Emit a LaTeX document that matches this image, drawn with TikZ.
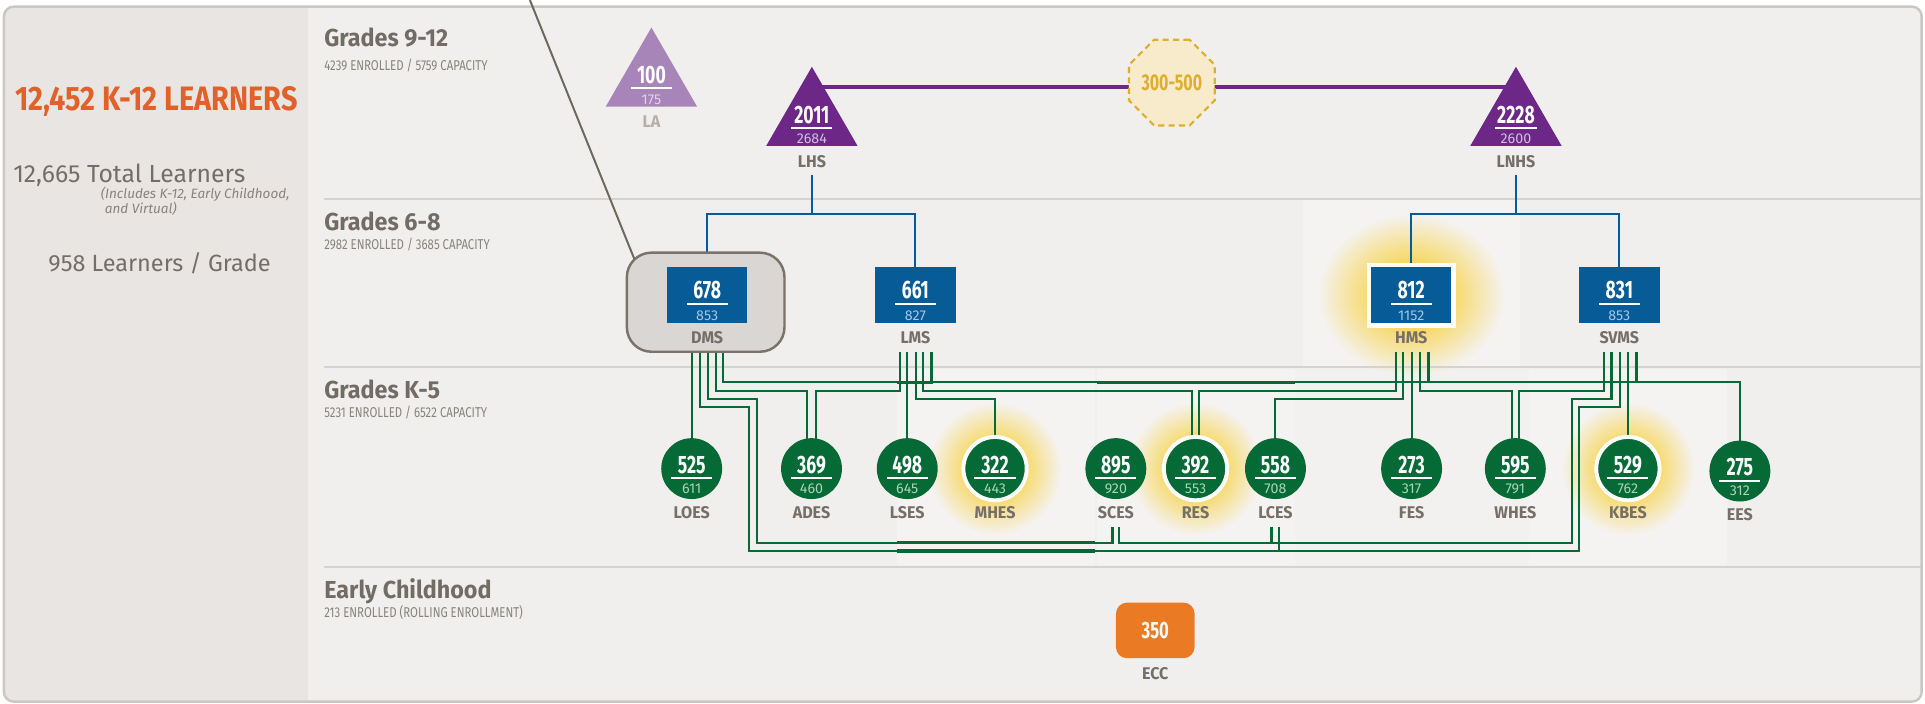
\documentclass[tikz,border=0pt]{standalone}
\usepackage{graphicx}
\usepackage{fontspec}
\setmainfont{Fira Sans}
\newfontfamily\fnum{Fira Sans}[FakeStretch=0.7]
\newfontfamily\flab{Fira Sans}[FakeStretch=0.95]
\newfontfamily\fsub{Fira Sans}[FakeStretch=0.8]
\usetikzlibrary{shapes.geometric,fadings}
\pgfdeclarelayer{back}
\pgfdeclarelayer{wires}
\pgfsetlayers{back,wires,main}
\pgfdeclareradialshading{glowsh}{\pgfpointorigin}{color(0bp)=(white); color(9bp)=(white); color(25bp)=(black); color(50bp)=(black)}
\pgfdeclarefading{glowfade}{\pgfuseshading{glowsh}}

\definecolor{bgR}{HTML}{F0EFED}
\definecolor{bgL}{HTML}{E8E5E2}
\definecolor{panelc}{HTML}{F5F3F2}
\definecolor{panelc2}{HTML}{F2F1EF}
\definecolor{framec}{HTML}{CCC7C2}
\definecolor{sepc}{HTML}{D5D2CF}
\definecolor{headc}{HTML}{736C65}
\definecolor{subc}{HTML}{8A837D}
\definecolor{labc}{HTML}{766F68}
\definecolor{lalab}{HTML}{B7AEA7}
\definecolor{orangeT}{HTML}{E0622A}
\definecolor{purp}{HTML}{6D2787}
\definecolor{lpurp}{HTML}{A785B8}
\definecolor{blu}{HTML}{075B96}
\definecolor{grn}{HTML}{066A37}
\definecolor{ecco}{HTML}{EA7A24}
\definecolor{gold}{HTML}{DFAE2C}
\definecolor{goldfill}{HTML}{F7EBCB}
\definecolor{glowc}{HTML}{F8D655}
\definecolor{dmsfill}{HTML}{D9D6D3}
\definecolor{dmsdraw}{HTML}{7B726A}
\definecolor{callc}{HTML}{6F665E}
\definecolor{smblue}{HTML}{A7C6E6}
\definecolor{smgreen}{HTML}{A9D4B8}
\definecolor{smpurp}{HTML}{D2BDE0}
\definecolor{smla}{HTML}{E0D3E8}
\definecolor{lefttext}{HTML}{746E68}

\tikzset{
  numt/.style={inner sep=0, text=white, font=\fnum\bfseries\fontsize{20.5}{21}\selectfont},
  smallt/.style={inner sep=0, font=\fontsize{11.6}{12}\selectfont},
  ulbar/.style={rectangle, inner sep=0, fill=white, minimum width=33.5, minimum height=1.6},
  labt/.style={inner sep=0, text=labc, font=\flab\bfseries\fontsize{13.8}{14}\selectfont},
  headt/.style={inner sep=0, anchor=base west, text=headc, font=\flab\bfseries\fontsize{20}{20}\selectfont},
  subt/.style={inner sep=0, anchor=base west, text=subc, font=\fsub\fontsize{11.6}{12}\selectfont},
  tri/.style={regular polygon, regular polygon sides=3, minimum size=86, inner sep=0, outer sep=0},
  bluebox/.style={rectangle, fill=blu, minimum width=65.5, minimum height=45, inner sep=0},
  es/.style={circle, fill=grn, minimum size=49.6, inner sep=0},
  eshi/.style={circle, fill=grn, draw=white, line width=3.2, minimum size=51.6, inner sep=0},
  gline/.style={draw=grn, line width=1.7},
  gbus/.style={draw=grn, line width=2.4},
  gthick/.style={draw=grn, line width=2.8},
  bline/.style={draw=blu, line width=1.6},
  sepline/.style={draw=sepc, line width=1.6},
  glow/.style={fill=glowc, path fading=glowfade},
}

\newcommand\schooltxt[7]{%
  \node[numt] (#1-n) at ([yshift=#4]#1.center) {#2};
  \node[ulbar] (#1-u) at ([yshift=#5]#1.center) {};
  \node[smallt, text=#7] (#1-s) at ([yshift=#6]#1.center) {#3};
}
\newcommand\schoollab[3]{%
  \node[labt] (#1-l) at ([yshift=#3]#1.center) {#2};
}

\begin{document}
\begin{tikzpicture}[x=1pt,y=-1pt]
\useasboundingbox (0,0) rectangle (1568,573);

% ---------- background ----------
\begin{pgfonlayer}{back}
\fill[white] (0,0) rectangle (1568,573);
\fill[bgR, rounded corners=8] (3.2,5.4) rectangle (1565.3,571.5);
\begin{scope}
  \clip[rounded corners=8] (3.2,5.4) rectangle (1565.3,571.5);
  \fill[bgL] (0,0) rectangle (250.5,573);
\end{scope}
% lighter panels
\fill[panelc] (1061.7,163) rectangle (1238,298);
\fill[panelc] (730.6,300.5) rectangle (892.3,460.5);
\fill[panelc] (893.3,300.5) rectangle (1054.8,460.5);
\fill[panelc2] (1055,300.5) rectangle (1245.4,460.5);
\fill[panelc] (1245.4,300.5) rectangle (1406.7,460.5);
% glows
\fill[glow] (1149.5,240.3) ellipse (76 and 66);
\fill[glow] (810.5,381.7) circle (54);
\fill[glow] (973.8,381.7) circle (54);
\fill[glow] (1326,381.7) circle (54);
% separators
\draw[sepline] (264,162) -- (1565,162);
\draw[sepline] (264,298.7) -- (1565,298.7);
\draw[sepline] (264,461.6) -- (1565,461.6);
\draw[framec, line width=2, rounded corners=8] (3.2,5.4) rectangle (1565.3,571.5);
\end{pgfonlayer}

% ---------- left panel texts ----------
\node[inner sep=0, anchor=base west, text=orangeT] (kl) at (12.2,89.6) {\resizebox{230pt}{19.6pt}{\bfseries 12,452 K-12 LEARNERS}};
\node[inner sep=0, anchor=base west, text=lefttext] (tl) at (10.6,148.8) {\resizebox{189pt}{!}{\fontsize{19}{19}\selectfont 12,665 Total Learners}};
\node[inner sep=0, anchor=base west, text=subc, font=\itshape\fontsize{11}{11}\selectfont] (inc1) at (82,161.5) {(Includes K-12, Early Childhood,};
\node[inner sep=0, anchor=base west, text=subc, font=\itshape\fontsize{11}{11}\selectfont] (inc2) at (85.3,173.8) {and Virtual)};
\node[inner sep=0, anchor=base west, text=lefttext] (lg) at (39.3,221.3) {\resizebox{181pt}{!}{\fontsize{19}{19}\selectfont 958 Learners / Grade}};

% ---------- row headings ----------
\node[headt] (h912) at (264,38) {Grades 9-12};
\node[subt] (s912) at (264,57.8) {4239 ENROLLED / 5759 CAPACITY};
\node[headt] (h68) at (264,188) {Grades 6-8};
\node[subt] (s68) at (264,203.6) {2982 ENROLLED / 3685 CAPACITY};
\node[headt] (hk5) at (264,324.7) {Grades K-5};
\node[subt] (sk5) at (264,340.3) {5231 ENROLLED / 6522 CAPACITY};
\node[headt] (hec) at (264,487.4) {Early Childhood};
\node[subt] (sec) at (264,502.8) {213 ENROLLED (ROLLING ENROLLMENT)};

% ---------- high schools ----------
\node[tri, fill=lpurp] (LA) at (530.6,65.4) {};
\node[tri, fill=purp] (LHS) at (661.3,97.4) {};
\node[tri, fill=purp] (LNHS) at (1234.8,97.4) {};
\node[regular polygon, regular polygon sides=8, minimum size=67.6, inner sep=0,
      fill=goldfill, draw=gold, line width=1.8, dash pattern=on 5pt off 3.5pt,
      text=gold, font=\fnum\bfseries\fontsize{18.6}{19}\selectfont] (oct) at (954.5,67.3) {300-500};

\schooltxt{LA}{100}{175}{4.6}{-6.3}{-16.1}{smla}
\node[labt, text=lalab] (LA-l) at ([yshift=-33.7]LA.center) {LA};
\schooltxt{LHS}{2011}{2684}{4}{-6.6}{-16}{smpurp}
\schoollab{LHS}{LHS}{-34.3}
\schooltxt{LNHS}{2228}{2600}{4}{-6.6}{-16}{smpurp}
\schoollab{LNHS}{LNHS}{-34.3}

% ---------- middle schools ----------
\node[rectangle, rounded corners=20, fill=dmsfill, draw=dmsdraw, line width=2,
      minimum width=128.4, minimum height=80.7, inner sep=0] (DMSwrap) at (574.8,246.15) {};
\node[bluebox] (DMS) at (576,240.3) {};
\node[bluebox] (LMS) at (745.6,240.3) {};
\node[rectangle, fill=white, minimum width=72.4, minimum height=53, inner sep=0] (HMSring) at (1149.5,240.5) {};
\node[bluebox] (HMS) at (1149.5,240.3) {};
\node[bluebox] (SVMS) at (1319,240.3) {};
\schooltxt{DMS}{678}{853}{3.8}{-7.3}{-16.7}{smblue}
\schoollab{DMS}{DMS}{-34.5}
\schooltxt{LMS}{661}{827}{3.8}{-7.3}{-16.7}{smblue}
\schoollab{LMS}{LMS}{-34.5}
\schooltxt{HMS}{812}{1152}{3.8}{-7.3}{-16.7}{smblue}
\schoollab{HMS}{HMS}{-34.5}
\schooltxt{SVMS}{831}{853}{3.8}{-7.3}{-16.7}{smblue}
\schoollab{SVMS}{SVMS}{-34.5}

% ---------- elementary schools ----------
\node[es] (LOES) at (563.4,381.7) {};
\node[es] (ADES) at (661,381.7) {};
\node[es] (LSES) at (739,381.7) {};
\node[eshi] (MHES) at (810.5,381.7) {};
\node[es] (SCES) at (908.9,381.7) {};
\node[eshi] (RES) at (973.8,381.7) {};
\node[es] (LCES) at (1038.9,381.7) {};
\node[es] (FES) at (1149.8,381.7) {};
\node[es] (WHES) at (1234.3,381.7) {};
\node[eshi] (KBES) at (1326,381.7) {};
\node[es] (EES) at (1417.2,383.7) {};
\schooltxt{LOES}{525}{611}{2.9}{-7.9}{-16.1}{smgreen}\schoollab{LOES}{LOES}{-35.9}
\schooltxt{ADES}{369}{460}{2.9}{-7.9}{-16.1}{smgreen}\schoollab{ADES}{ADES}{-35.9}
\schooltxt{LSES}{498}{645}{2.9}{-7.9}{-16.1}{smgreen}\schoollab{LSES}{LSES}{-35.9}
\schooltxt{MHES}{322}{443}{2.9}{-7.9}{-16.1}{smgreen}\schoollab{MHES}{MHES}{-35.9}
\schooltxt{SCES}{895}{920}{2.9}{-7.9}{-16.1}{smgreen}\schoollab{SCES}{SCES}{-35.9}
\schooltxt{RES}{392}{553}{2.9}{-7.9}{-16.1}{smgreen}\schoollab{RES}{RES}{-35.9}
\schooltxt{LCES}{558}{708}{2.9}{-7.9}{-16.1}{smgreen}\schoollab{LCES}{LCES}{-35.9}
\schooltxt{FES}{273}{317}{2.9}{-7.9}{-16.1}{smgreen}\schoollab{FES}{FES}{-35.9}
\schooltxt{WHES}{595}{791}{2.9}{-7.9}{-16.1}{smgreen}\schoollab{WHES}{WHES}{-35.9}
\schooltxt{KBES}{529}{762}{2.9}{-7.9}{-16.1}{smgreen}\schoollab{KBES}{KBES}{-35.9}
\schooltxt{EES}{275}{312}{2.9}{-7.9}{-16.1}{smgreen}\schoollab{EES}{EES}{-35.8}

% ---------- early childhood ----------
\node[rectangle, rounded corners=9, fill=ecco, minimum width=64, minimum height=45.3, inner sep=0] (ECC) at (941,513.5) {};
\node[numt, font=\fnum\bfseries\fontsize{19.3}{20}\selectfont] (ECC-n) at ([yshift=-0.4]ECC.center) {350};
\schoollab{ECC}{ECC}{-35}

% ---------- ports ----------
\foreach \n/\x in {1/563.4,2/570.2,3/576.4,4/583.0,5/589.2} \coordinate (dp\n) at (\x,286.5);
\foreach \n/\x in {1/733.1,2/739.0,3/745.9,4/752.1,5/758.9} \coordinate (lp\n) at (\x,286.5);
\foreach \n/\x in {1/1137.4,2/1143.1,3/1149.8,4/1156.5,5/1163.2} \coordinate (hp\n) at (\x,286.5);
\foreach \n/\x in {1/1306.3,2/1312.6,3/1319.3,4/1326.0,5/1332.7} \coordinate (sp\n) at (\x,286.5);
\coordinate (LHSb) at (661.3,142.5);
\coordinate (LNHSb) at (1234.8,142.5);
\coordinate (callTop) at (431.6,0);
\coordinate (callEnd) at (519.6,218.2);
% bottom ports of SCES and LCES (below their labels)
\coordinate (scesL) at (906.2,429);
\coordinate (scesR) at (911.5,429);
\coordinate (lcesL) at (1035.7,429);
\coordinate (lcesR) at (1042,429);

% ---------- connectors ----------
\begin{pgfonlayer}{wires}
\draw[callc, line width=1.6] (callTop) -- (callEnd);
\draw[purp, line width=3] (LHS.center |- 0,70.6) -- (LNHS.center |- 0,70.6);
% blue
\draw[bline] (LHSb) -- (LHSb |- 0,174.3);
\draw[bline] (DMS.north) -- (DMS.north |- 0,174.3) -- (LMS.north |- 0,174.3) -- (LMS.north);
\draw[bline] (LNHSb) -- (LNHSb |- 0,174.3);
\draw[bline] (HMS.north) -- (HMS.north |- 0,174.3) -- (SVMS.north |- 0,174.3) -- (SVMS.north);
% green
\draw[gline] (dp1) -- (LOES.center);
\draw[gline] (dp2) -- (570.2,331.8) -- (610,331.8) -- (610,448.8) -- (1286.4,448.8) -- (1286.4,331.8) -- (1319.3,331.8) -- (sp3);
\draw[gline] (dp3) -- (576.4,325) -- (616.3,325) -- (616.3,442) -- (906.2,442) -- (scesL);
\draw[gline] (dp4) -- (583,318.2) -- (657.6,318.2) -- (657.6,0 |- ADES.center);
\draw[gline] (dp5) -- (589.2,311.4) -- (1417.2,311.4) -- (EES.center);
\draw[gline] (lp1) -- (733.1,318.2) -- (664.4,318.2) -- (664.4,0 |- ADES.center);
\draw[gline] (lp2) -- (LSES.center);
\draw[gline] (lp3) -- (745.9,325) -- (810.5,325) -- (MHES.center);
\draw[gline] (lp4) -- (752.1,318.2) -- (970.7,318.2) -- (970.7,0 |- RES.center);
\draw[gbus] (lp5) -- (758.9,311.4);
\draw[gline] (hp1) -- (1137.4,318.2) -- (976.9,318.2) -- (976.9,0 |- RES.center);
\draw[gline] (hp2) -- (1143.1,325) -- (1038.9,325) -- (LCES.center);
\draw[gline] (hp3) -- (FES.center);
\draw[gline] (hp4) -- (1156.5,318.2) -- (1231.3,318.2) -- (1231.3,0 |- WHES.center);
\draw[gbus] (hp5) -- (1163.2,311.4);
\draw[gline] (sp1) -- (1306.3,318.2) -- (1237.3,318.2) -- (1237.3,0 |- WHES.center);
\draw[gline] (sp2) -- (1312.6,325) -- (1280.2,325) -- (1280.2,442) -- (911.5,442) -- (scesR);
\draw[gline] (sp4) -- (KBES.center);
\draw[gbus] (sp5) -- (1332.7,311.4);
\draw[gline] (lcesL) -- (1035.7,442);
\draw[gline] (lcesR) -- (1042,448.8);
% darker overlay segments
\draw[gthick] (730.4,311.4) -- (760.2,311.4);
\draw[gthick] (893.3,311.4) -- (1054.8,311.4);
\draw[gthick] (730.7,442) -- (892,442);
\draw[gthick] (730.7,448.8) -- (892,448.8);
\end{pgfonlayer}
\end{tikzpicture}
\end{document}
